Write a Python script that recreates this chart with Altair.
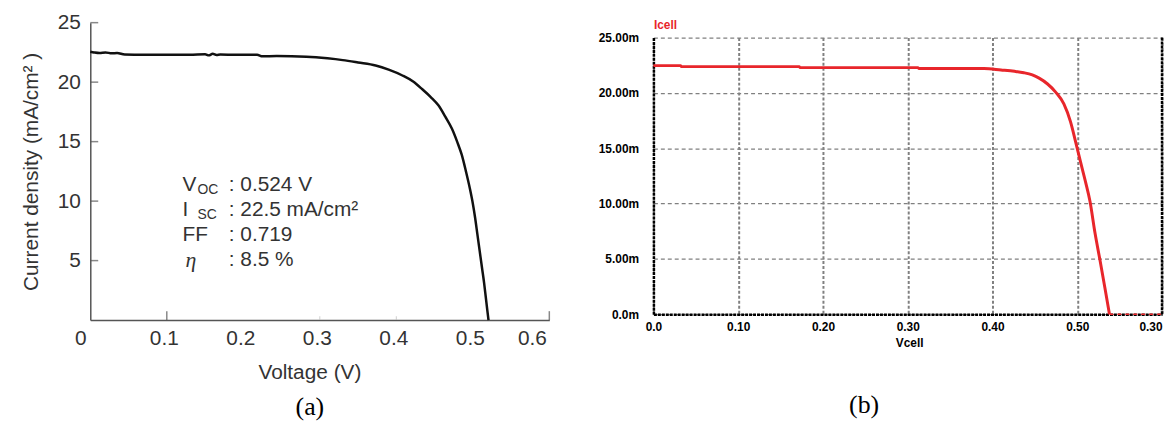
import altair as alt
import pandas as pd

# ---------------- Panel (a): measured J-V curve ----------------
va = [0, 0.005, 0.012, 0.02, 0.028, 0.035, 0.045, 0.07, 0.1, 0.13, 0.15, 0.155, 0.16,
      0.165, 0.17, 0.19, 0.218, 0.225, 0.2436, 0.2825, 0.31, 0.33, 0.35, 0.373, 0.39,
      0.408, 0.422, 0.434, 0.445, 0.455, 0.464, 0.4726, 0.4795, 0.4855, 0.491, 0.496,
      0.5, 0.503, 0.506, 0.509, 0.512, 0.5149, 0.517, 0.519, 0.5205]
ja = [22.56, 22.5, 22.45, 22.5, 22.42, 22.45, 22.32, 22.3, 22.3, 22.3, 22.35, 22.25, 22.38,
      22.28, 22.32, 22.3, 22.3, 22.17, 22.2, 22.14, 22.0, 21.85, 21.65, 21.4, 21.05,
      20.56, 20.05, 19.4, 18.75, 18.05, 17.1, 16.1, 15.0, 13.9, 12.5, 11.1,
      9.8, 8.6, 7.2, 5.8, 4.4, 3.05, 1.9, 0.8, 0.0]

xa_ticks = [0, 0.1, 0.2, 0.3, 0.4, 0.5, 0.6]
ya_ticks = [5, 10, 15, 20, 25]
xa_marks_strong = [0.1, 0.6]
xa_marks_faint = [0.3, 0.4]

ann_sym = ["V", "I", "FF"]
ann_sym_y = [11.33, 9.25, 7.17]
ann_eta = ["η"]
ann_eta_y = [5.08]
ann_sub = ["OC", "SC"]
ann_sub_y = [11.33, 9.25]
ann_val = [": 0.524 V", ": 22.5 mA/cm²", ": 0.719", ": 8.5 %"]
ann_val_y = [11.33, 9.25, 7.17, 5.08]
ann_x_sym = 0.1205
ann_x_sub = 0.14
ann_x_val = 0.181

# ---------------- Panel (b): simulated I-V curve ----------------
vb = [0, 0.032, 0.033, 0.172, 0.173, 0.312, 0.313, 0.39, 0.41, 0.426, 0.437, 0.447, 0.455,
      0.465, 0.4745, 0.4842, 0.492, 0.498, 0.5037, 0.5096, 0.515, 0.521, 0.527, 0.533, 0.538]
ib = [22.46, 22.46, 22.37, 22.37, 22.28, 22.28, 22.2, 22.2, 22.07, 21.95, 21.82, 21.62, 21.33,
      20.8, 20.07, 19.0, 17.4, 15.6, 13.8, 12.0, 10.2, 7.3, 4.8, 2.2, 0.0]
vb_zero = [0.538, 0.6]
ib_zero = [0.0, 0.0]
xb_ticks = [0, 0.1, 0.2, 0.3, 0.4, 0.5, 0.6]
yb_ticks = [0, 5, 10, 15, 20, 25]
xb_right = [0.6]

SANS = "Liberation Sans"
SERIF = "Liberation Serif"
TXT = "#333333"
AX = "#555555"

# ---- panel (a) ----
xsc_a = alt.Scale(domain=[0, 0.6], nice=False, zero=False)
ysc_a = alt.Scale(domain=[0, 25], nice=False, range=[285, -15])

x_a = alt.X("v:Q", scale=xsc_a, axis=alt.Axis(
    values=xa_ticks,
    labelExpr="datum.value == 0 ? '0' : format(datum.value, '.1f')",
    labelOffset={"condition": {"test": "datum.value == 0", "value": -16}, "value": -3},
    labelFont=SANS, labelFontSize=21, labelColor=TXT, labelPadding=8,
    ticks=False, grid=False, domainColor=AX, domainWidth=1.5,
    title="Voltage (V)", titleFont=SANS, titleFontSize=21, titleFontWeight="normal",
    titleColor=TXT, titleX=221, titleY=42, titleAlign="center", titleBaseline="top"))
y_a = alt.Y("j:Q", scale=ysc_a, axis=alt.Axis(
    values=ya_ticks, labelFont=SANS, labelFontSize=21, labelColor=TXT, labelPadding=10,
    ticks=False, grid=False, domainColor=AX, domainWidth=1.5,
    title="Current density (mA/cm² )", titleFont=SANS, titleFontSize=21,
    titleFontWeight="normal", titleColor=TXT, titlePadding=16))

curve_a = alt.Chart(pd.DataFrame({"v": va, "j": ja})).mark_line(
    color="#111111", strokeWidth=2.5, interpolate="monotone").encode(x=x_a, y=y_a)

yt = alt.Chart(pd.DataFrame({"v": [0] * len(ya_ticks), "j": ya_ticks})).mark_tick(
    orient="horizontal", size=8, thickness=1.5, xOffset=4, color=AX).encode(
    x=alt.X("v:Q", scale=xsc_a), y=alt.Y("j:Q", scale=ysc_a))
xt1 = alt.Chart(pd.DataFrame({"v": xa_marks_strong, "j": [0] * len(xa_marks_strong)})).mark_tick(
    orient="vertical", size=9, thickness=1.5, yOffset=-4.5, color=AX).encode(
    x=alt.X("v:Q", scale=xsc_a), y=alt.Y("j:Q", scale=ysc_a))
xt2 = alt.Chart(pd.DataFrame({"v": xa_marks_faint, "j": [0] * len(xa_marks_faint)})).mark_tick(
    orient="vertical", size=4, thickness=1, yOffset=-2, color="#bbbbbb").encode(
    x=alt.X("v:Q", scale=xsc_a), y=alt.Y("j:Q", scale=ysc_a))

def ann(labels, ys, xpos, **kw):
    df = pd.DataFrame({"v": [xpos] * len(labels), "j": ys, "t": labels})
    return alt.Chart(df).mark_text(align="left", baseline="middle", color=TXT, **kw).encode(
        x=alt.X("v:Q", scale=xsc_a), y=alt.Y("j:Q", scale=ysc_a), text="t:N")

t_sym = ann(ann_sym, ann_sym_y, ann_x_sym, font=SANS, fontSize=21)
t_eta = ann(ann_eta, ann_eta_y, ann_x_sym + 0.004, font=SERIF, fontSize=22, fontStyle="italic")
t_sub = ann(ann_sub, ann_sub_y, ann_x_sub, font=SANS, fontSize=14, dy=5)
t_val = ann(ann_val, ann_val_y, ann_x_val, font=SANS, fontSize=21)

panel_a = alt.layer(curve_a, yt, xt1, xt2, t_sym, t_eta, t_sub, t_val).properties(
    width=463, height=285,
    title=alt.TitleParams("(a)", orient="bottom", font=SERIF, fontSize=26,
                          fontWeight="normal", color="black", anchor="middle",
                          dx=-10, offset=12))

# ---- panel (b) ----
xsc_b = alt.Scale(domain=[0, 0.6], nice=False, zero=False)
ysc_b = alt.Scale(domain=[0, 25], nice=False)
LAB_B = dict(labelFont=SANS, labelFontSize=12, labelFontWeight="bold", labelColor="black")

x_b = alt.X("v:Q", scale=xsc_b, axis=alt.Axis(
    values=xb_ticks,
    labelExpr="datum.value == 0 ? '0.0' : (datum.value > 0.59 ? '0.30' : format(datum.value, '.2f'))",
    labelAlign={"condition": {"test": "datum.value > 0.59", "value": "right"}, "value": "center"},
    labelPadding=7, ticks=False, domainColor="black", domainWidth=2.5, domainDash=[3, 1],
    grid=True, gridColor="#808080", gridDash=[3, 2], gridWidth=2,
    title="Vcell", titleFont=SANS, titleFontSize=12, titleFontWeight="bold", titleColor="black",
    titleX=244, titleY=29, titleAlign="left", titleBaseline="middle", **LAB_B))
y_b = alt.Y("i:Q", scale=ysc_b, axis=alt.Axis(
    values=yb_ticks,
    labelExpr="datum.value == 0 ? '0.0m' : format(datum.value, '.2f') + 'm'",
    labelPadding=15, ticks=False, domainColor="black", domainWidth=2.5, domainDash=[3, 1],
    grid=True, gridColor="#808080", gridDash=[4, 3], gridWidth=1.3,
    title="Icell", titleFont=SANS, titleFontSize=12, titleFontWeight="bold", titleColor="#e8262b",
    titleAngle=0, titleX=0, titleY=-13, titleAlign="left", titleBaseline="middle", **LAB_B))

curve_b = alt.Chart(pd.DataFrame({"v": vb, "i": ib})).mark_line(
    color="#e8262b", strokeWidth=3, interpolate="monotone").encode(x=x_b, y=y_b)
zero_b = alt.Chart(pd.DataFrame({"v": vb_zero, "i": ib_zero})).mark_line(
    color="#e8262b", strokeWidth=1.5, strokeDash=[4, 4]).encode(
    x=alt.X("v:Q", scale=xsc_b), y=alt.Y("i:Q", scale=ysc_b))
right_b = alt.Chart(pd.DataFrame({"v": xb_right})).mark_rule(
    color="black", strokeWidth=2.5, strokeDash=[3, 1]).encode(x=alt.X("v:Q", scale=xsc_b))

panel_b = alt.layer(curve_b, zero_b, right_b).properties(
    width=513, height=279,
    title=alt.TitleParams("(b)", orient="bottom", font=SERIF, fontSize=26,
                          fontWeight="normal", color="black", anchor="middle",
                          dx=-44, offset=44))

chart = alt.hconcat(panel_a, panel_b, spacing=48).properties(
    padding={"left": 12, "top": 2, "right": 0, "bottom": 0}
).configure_view(stroke=None)

chart.save("out.html", embed_options={"renderer": "svg", "actions": False})
